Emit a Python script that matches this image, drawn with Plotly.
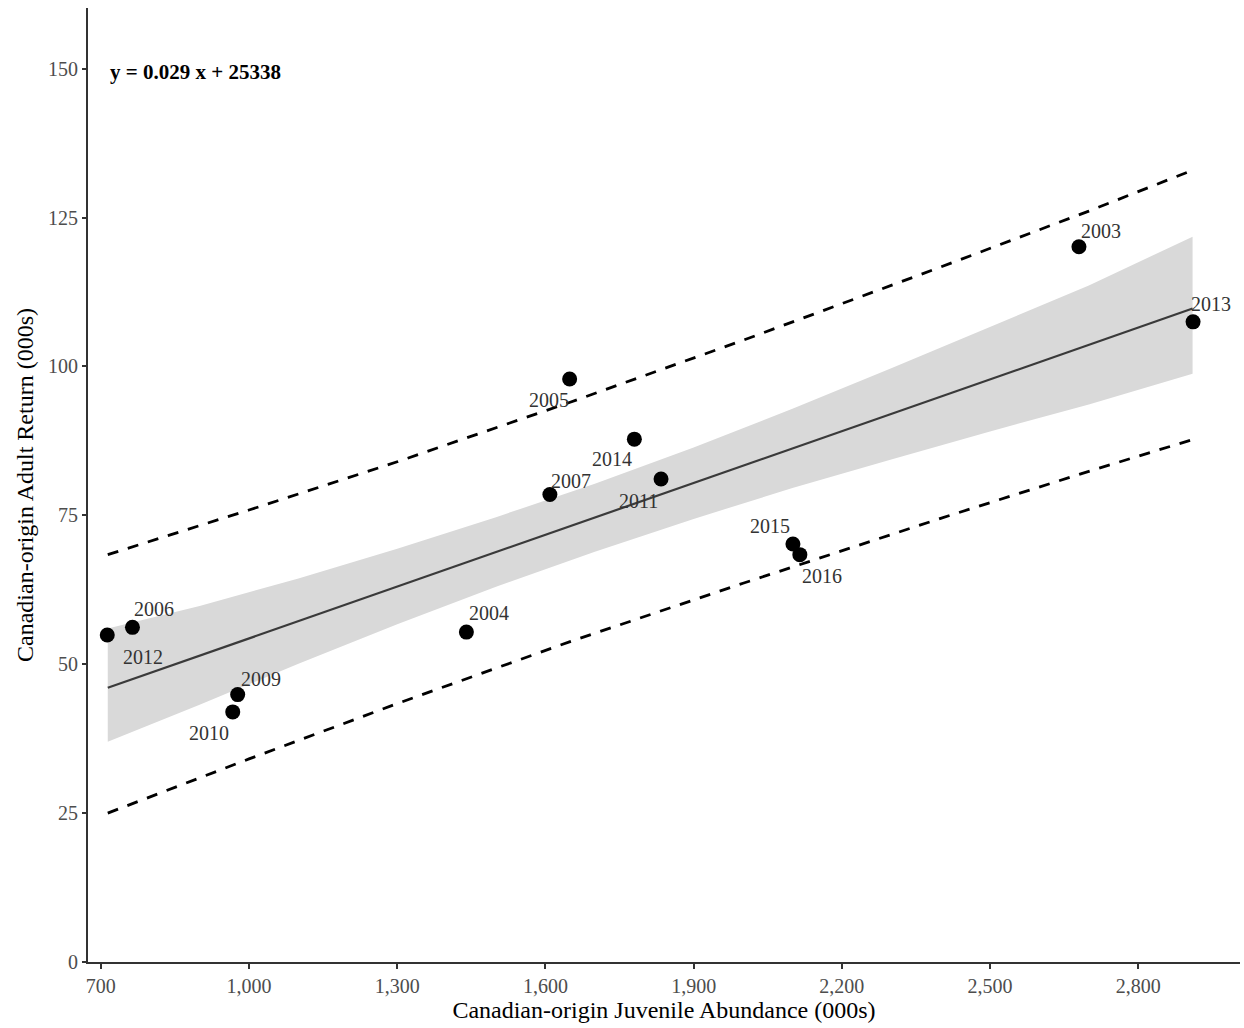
import plotly.graph_objects as go

# Canadian-origin juvenile abundance vs adult return (thousands of fish)
years = ["2012", "2006", "2009", "2010", "2004", "2007", "2005",
         "2014", "2011", "2015", "2016", "2003", "2013"]
juvenile = [713, 764, 977, 967, 1440, 1609, 1649, 1780, 1834, 2101, 2115, 2680, 2911]
adult = [54.9, 56.2, 44.9, 42.0, 55.4, 78.5, 97.9, 87.8, 81.1, 70.2, 68.4, 120.1, 107.5]

# Fitted regression (fish units: y = 0.029 x + 25338)
slope = 0.029
intercept = 25.338  # thousands
fit_x = [714, 2910]

# 95% confidence band for the fitted mean
band_x = [714, 900, 1100, 1300, 1500, 1700, 1900, 2100, 2300, 2500, 2700, 2910]
band_hi = [56.0, 59.8, 64.4, 69.4, 74.7, 80.3, 86.4, 92.9, 99.7, 106.6, 113.6, 121.8]
band_lo = [37.0, 43.2, 50.1, 56.7, 63.0, 68.9, 74.4, 79.6, 84.4, 89.1, 93.6, 98.8]

# Prediction interval limits
pred_x = [714, 1000, 1300, 1650, 2000, 2400, 2700, 2905]
pred_hi = [68.4, 75.9, 84.0, 94.0, 104.4, 116.7, 126.1, 132.8]
pred_lo = [25.0, 34.1, 43.4, 53.8, 63.6, 74.5, 82.4, 87.6]

x_ticks = [700, 1000, 1300, 1600, 1900, 2200, 2500, 2800]
y_ticks = [0, 25, 50, 75, 100, 125, 150]

# pixel offsets of each year label from its point (dx, dy; dy up)
label_offsets = {
    "2012": (36, -22), "2006": (22, 18), "2009": (23, 16), "2010": (-24, -21),
    "2004": (23, 19), "2007": (21, 14), "2005": (-21, -21), "2014": (-22, -20),
    "2011": (-23, -22), "2015": (-23, 18), "2016": (22, -21), "2003": (22, 16),
    "2013": (18, 18),
}

serif = "Liberation Serif, Times New Roman, serif"
axis_col = "#333333"
tick_col = "#4d4d4d"

fig = go.Figure()

fig.add_trace(go.Scatter(x=band_x, y=band_lo, mode="lines",
                         line=dict(width=0, color="rgba(0,0,0,0)"),
                         showlegend=False, hoverinfo="skip"))
fig.add_trace(go.Scatter(x=band_x, y=band_hi, mode="lines", fill="tonexty",
                         fillcolor="#d9d9d9", line=dict(width=0, color="rgba(0,0,0,0)"),
                         showlegend=False, hoverinfo="skip"))

fig.add_trace(go.Scatter(x=fit_x, y=[slope * v + intercept for v in fit_x],
                         mode="lines", line=dict(color="#3a3a3a", width=2.2),
                         showlegend=False))

for ys in (pred_hi, pred_lo):
    fig.add_trace(go.Scatter(x=pred_x, y=ys, mode="lines",
                             line=dict(color="black", width=2.8, dash="11px,10px"),
                             showlegend=False))

fig.add_trace(go.Scatter(x=juvenile, y=adult, mode="markers",
                         marker=dict(color="black", size=15),
                         showlegend=False))

for yr, xv, yv in zip(years, juvenile, adult):
    dx, dy = label_offsets[yr]
    fig.add_annotation(x=xv, y=yv, text=yr, showarrow=False,
                       xshift=dx, yshift=dy,
                       font=dict(family=serif, size=20, color="#333333"))

fig.add_annotation(x=714, y=149.5, xanchor="left", yanchor="middle",
                   text="<b>y = 0.029 x + 25338</b>", showarrow=False,
                   font=dict(family=serif, size=21, color="black"))

fig.update_layout(
    width=1244, height=1028,
    margin=dict(l=88, r=4, t=8, b=66),
    paper_bgcolor="white", plot_bgcolor="white",
    font=dict(family=serif),
)

fig.update_xaxes(
    range=[674, 3006], tickvals=x_ticks, tickformat=",d",
    showgrid=False, zeroline=False,
    showline=True, linecolor=axis_col, linewidth=2,
    ticks="outside", ticklen=5, tickwidth=1.5, tickcolor=axis_col,
    tickfont=dict(family=serif, size=20, color=tick_col),
    title=dict(text="Canadian-origin Juvenile Abundance (000s)",
               font=dict(family=serif, size=24, color="black"), standoff=3),
    automargin=False,
)
fig.update_yaxes(
    range=[0, 160.2], tickvals=y_ticks,
    showgrid=False, zeroline=False,
    showline=True, linecolor=axis_col, linewidth=2,
    ticks="outside", ticklen=4, tickwidth=1.5, tickcolor=axis_col,
    tickfont=dict(family=serif, size=20, color=tick_col),
    title=dict(text="Canadian-origin Adult Return (000s)",
               font=dict(family=serif, size=24, color="black"), standoff=8),
    automargin=False,
)

fig.write_html("out.html")
